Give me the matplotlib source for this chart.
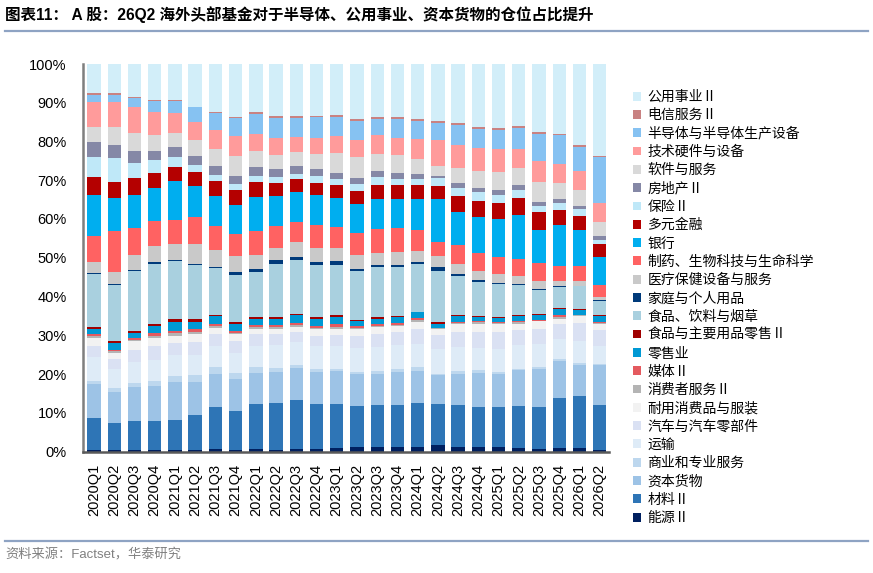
import matplotlib
matplotlib.use('Agg')
import matplotlib.pyplot as plt
from matplotlib.patches import Patch
from matplotlib.lines import Line2D
from matplotlib.ticker import FuncFormatter
from matplotlib.font_manager import FontProperties

plt.rcParams['font.family'] = ['Liberation Sans', 'Noto Sans CJK SC', 'DejaVu Sans']

quarters = ['2020Q1', '2020Q2', '2020Q3', '2020Q4', '2021Q1', '2021Q2', '2021Q3', '2021Q4',
            '2022Q1', '2022Q2', '2022Q3', '2022Q4', '2023Q1', '2023Q2', '2023Q3', '2023Q4',
            '2024Q1', '2024Q2', '2024Q3', '2024Q4', '2025Q1', '2025Q2', '2025Q3', '2025Q4',
            '2026Q1', '2026Q2']

# stacking order: bottom -> top
sector_names = ['能源Ⅱ', '材料Ⅱ', '资本货物', '商业和专业服务', '运输', '汽车与汽车零部件',
                '耐用消费品与服装', '消费者服务Ⅱ', '媒体Ⅱ', '零售业', '食品与主要用品零售Ⅱ',
                '食品、饮料与烟草', '家庭与个人用品', '医疗保健设备与服务', '制药、生物科技与生命科学',
                '银行', '多元金融', '保险Ⅱ', '房地产Ⅱ', '软件与服务', '技术硬件与设备',
                '半导体与半导体生产设备', '电信服务Ⅱ', '公用事业Ⅱ']

energy = [0.5, 0.4, 0.3, 0.3, 0.5, 0.4, 0.6, 0.5, 0.7, 0.5, 0.7, 0.7, 0.9, 1.1, 1.1, 1.1, 1.1, 1.6, 1.1, 1.1, 1.1, 1.0, 0.7, 0.9, 0.9, 0.5]
materials = [8.1, 6.9, 7.5, 7.7, 7.7, 8.9, 11.0, 9.9, 11.5, 12.1, 12.5, 11.5, 11.3, 10.6, 10.8, 11.0, 11.4, 10.6, 10.8, 10.5, 10.4, 10.7, 10.8, 12.9, 13.3, 11.6]
capital_goods = [8.9, 8.1, 8.9, 9.0, 9.7, 8.6, 8.3, 8.4, 8.1, 7.9, 8.4, 8.3, 8.6, 8.2, 8.2, 8.4, 8.3, 7.5, 8.2, 8.6, 8.4, 9.3, 9.9, 9.5, 8.0, 10.1]
commercial = [0.6, 1.0, 1.0, 1.3, 1.7, 1.9, 1.9, 1.5, 1.4, 1.1, 0.6, 0.9, 0.6, 0.6, 0.7, 0.7, 1.0, 0.4, 0.7, 0.8, 0.6, 0.4, 0.4, 0.5, 0.6, 0.5]
transport = [6.3, 4.8, 5.4, 5.3, 5.2, 5.0, 5.3, 5.1, 5.6, 5.8, 6.1, 5.7, 5.7, 6.2, 6.2, 6.2, 5.9, 6.3, 6.2, 5.8, 6.0, 6.0, 6.0, 5.3, 5.6, 4.5]
autos = [2.7, 2.6, 3.0, 3.7, 3.2, 3.5, 3.1, 3.1, 3.0, 2.8, 2.6, 2.8, 2.9, 3.1, 3.4, 3.4, 3.9, 3.6, 3.9, 4.0, 4.3, 3.9, 3.9, 3.9, 4.8, 4.1]
durables = [2.3, 1.7, 2.4, 2.1, 1.9, 2.1, 1.7, 1.7, 1.4, 1.5, 1.3, 1.6, 1.7, 1.7, 1.7, 1.5, 1.9, 1.7, 2.1, 2.2, 2.2, 1.7, 1.9, 1.3, 1.7, 1.6]
consumer_services = [0.4, 0.4, 0.3, 0.4, 0.6, 0.5, 0.5, 0.4, 0.5, 0.4, 0.4, 0.4, 0.5, 0.4, 0.4, 0.4, 0.4, 0.1, 0.2, 0.3, 0.1, 0.3, 0.2, 0.4, 0.2, 0.2]
media = [0.4, 0.4, 0.4, 0.9, 0.7, 0.6, 0.5, 0.5, 0.5, 0.5, 0.5, 0.4, 0.6, 0.4, 0.5, 0.5, 0.5, 0.2, 0.2, 0.3, 0.2, 0.3, 0.2, 0.4, 0.2, 0.2]
retailing = [1.5, 1.8, 1.5, 1.7, 2.2, 2.0, 2.0, 1.9, 1.5, 1.7, 2.0, 2.0, 1.9, 1.3, 1.3, 1.4, 1.5, 1.0, 1.5, 1.0, 1.2, 1.4, 1.3, 1.6, 1.3, 1.6]
food_retail = [0.4, 0.4, 0.5, 0.4, 0.7, 0.6, 0.4, 0.4, 0.4, 0.4, 0.4, 0.4, 0.4, 0.3, 0.4, 0.4, 0.2, 0.3, 0.3, 0.4, 0.3, 0.3, 0.3, 0.4, 0.3, 0.3]
food_bev = [13.6, 14.4, 15.3, 15.7, 15.0, 14.0, 12.0, 12.1, 11.8, 13.8, 14.0, 13.4, 13.1, 12.7, 12.9, 12.6, 12.2, 13.3, 10.0, 8.8, 8.3, 7.6, 6.2, 5.4, 5.7, 3.7]
household = [0.4, 0.3, 0.3, 0.3, 0.3, 0.3, 0.4, 0.7, 0.7, 0.9, 0.8, 0.7, 0.9, 0.6, 0.6, 0.6, 0.5, 0.9, 0.7, 0.4, 0.4, 0.4, 0.2, 0.1, 0.1, 0.1]
healthcare_eq = [2.7, 3.2, 3.9, 4.2, 4.1, 5.2, 4.3, 4.2, 3.7, 3.2, 3.7, 3.6, 3.5, 3.5, 3.1, 3.3, 3.0, 3.0, 2.4, 2.4, 2.2, 1.9, 1.9, 1.3, 1.2, 0.9]
pharma = [6.9, 10.4, 7.1, 6.5, 6.3, 6.8, 6.2, 5.7, 6.2, 5.7, 5.3, 6.0, 5.4, 5.6, 6.2, 6.2, 5.3, 3.6, 5.1, 4.5, 4.6, 4.6, 4.7, 4.1, 4.0, 3.0]
banks = [10.6, 8.6, 8.4, 8.4, 9.9, 8.2, 7.7, 7.5, 8.7, 7.7, 7.6, 7.8, 7.3, 7.5, 7.7, 7.4, 8.0, 11.0, 8.4, 9.3, 9.6, 11.2, 8.6, 10.4, 9.2, 7.2]
div_fin = [4.5, 4.1, 4.4, 4.1, 3.7, 3.6, 4.0, 3.9, 3.8, 3.4, 3.3, 3.2, 3.5, 3.5, 3.7, 3.8, 3.8, 3.4, 4.1, 4.3, 4.3, 4.5, 4.5, 4.0, 3.7, 3.4]
insurance = [5.2, 6.3, 3.9, 3.2, 2.7, 1.8, 1.5, 1.5, 1.5, 1.4, 1.5, 1.7, 1.5, 1.7, 1.9, 1.5, 1.4, 2.1, 2.2, 2.2, 2.0, 2.1, 1.6, 1.8, 1.7, 1.1]
real_estate = [3.8, 3.2, 3.1, 2.4, 2.6, 2.2, 2.2, 2.0, 2.4, 2.1, 2.1, 1.9, 1.7, 1.6, 1.6, 1.5, 1.3, 0.5, 1.3, 1.2, 1.3, 1.1, 1.2, 0.9, 0.8, 0.9]
software = [3.9, 4.7, 4.7, 4.1, 3.6, 4.1, 4.5, 5.3, 4.2, 3.6, 3.6, 3.8, 5.1, 5.3, 4.5, 4.6, 4.0, 2.7, 3.8, 4.4, 4.5, 4.5, 5.0, 4.3, 4.1, 3.7]
tech_hw = [6.5, 6.4, 6.6, 5.8, 5.0, 4.7, 4.8, 5.0, 4.4, 4.3, 3.8, 4.0, 4.3, 4.6, 4.7, 4.5, 5.0, 6.5, 5.8, 5.7, 6.0, 4.8, 5.4, 4.9, 4.9, 4.9]
semis = [1.8, 1.9, 2.2, 2.9, 3.2, 3.8, 4.4, 4.7, 5.1, 5.3, 4.9, 5.4, 4.9, 4.9, 4.1, 4.8, 4.7, 4.6, 5.2, 4.9, 5.0, 5.4, 7.1, 7.3, 6.4, 11.9]
telecom = [0.5, 0.4, 0.4, 0.3, 0.3, 0.2, 0.3, 0.4, 0.4, 0.4, 0.4, 0.4, 0.5, 0.5, 0.6, 0.6, 0.6, 0.4, 0.7, 0.7, 0.4, 0.6, 0.4, 0.4, 0.3, 0.3]
utilities = [7.5, 7.6, 8.5, 9.3, 9.2, 11.0, 12.4, 13.6, 12.5, 13.5, 13.5, 13.4, 13.2, 14.1, 13.7, 13.6, 14.1, 14.7, 15.1, 16.2, 16.6, 16.0, 17.6, 18.0, 21.0, 23.7]

series = [energy, materials, capital_goods, commercial, transport, autos, durables,
          consumer_services, media, retailing, food_retail, food_bev, household,
          healthcare_eq, pharma, banks, div_fin, insurance, real_estate, software,
          tech_hw, semis, telecom, utilities]

colors = ['#002060', '#2E75B6', '#9DC3E6', '#BDD7EE', '#DEEBF7', '#DAE1F3',
          '#F2F2F2', '#B4B4B4', '#E45A5F', '#0099D4', '#A00000',
          '#A9D0DF', '#003A7A', '#C9C9C9', '#FF6262',
          '#00AEEF', '#B40000', '#BFE8F8', '#8588A6', '#D9D9D9',
          '#FF9B9B', '#86C2F2', '#C98282', '#D2EEF9']

fig = plt.figure(figsize=(8.73, 5.73), dpi=100)
W, H = 873, 573
ax = fig.add_axes([83.3 / W, 1 - 451.5 / H, (609 - 83.3) / W, (451.5 - 64) / H])

x = list(range(len(quarters)))
bottom = [0.0] * len(quarters)
for vals, col, name in zip(series, colors, sector_names):
    ax.bar(x, vals, bottom=bottom, width=0.66, color=col, linewidth=0, label=name)
    bottom = [b + v for b, v in zip(bottom, vals)]

ax.set_xlim(-0.53, len(quarters) - 1 + 0.46)
ax.set_ylim(0, 100)
ax.set_yticks(range(0, 101, 10))
ax.yaxis.set_major_formatter(FuncFormatter(lambda v, p: f'{int(v)}%'))
ax.set_xticks(x)
ax.set_xticklabels(quarters, rotation=90, fontsize=10.5)
ax.tick_params(axis='y', length=0, pad=12, labelsize=10.5)
ax.tick_params(axis='x', length=0, pad=9)
for s in ['top', 'right']:
    ax.spines[s].set_visible(False)
ax.spines['left'].set_color('#7F7F7F')
ax.spines['left'].set_linewidth(1.8)
ax.spines['bottom'].set_color('#595959')
ax.spines['bottom'].set_linewidth(1.8)

handles = [Patch(facecolor=c, edgecolor='none') for c in colors][::-1]
labels = sector_names[::-1]
leg_font = FontProperties(family=['Noto Sans CJK SC', 'DejaVu Sans'], size=10)
fig.legend(handles, labels, loc='upper left', bbox_to_anchor=(633 / W, 1 - 90 / H),
           frameon=False, prop=leg_font, handlelength=0.6, handleheight=0.6,
           handletextpad=0.45, labelspacing=0.31, borderaxespad=0, borderpad=0)

fig.text(5 / W, 1 - 15 / H,
         '图表11： A 股：26Q2 海外头部基金对于半导体、公用事业、资本货物的仓位占比提升',
         fontsize=11.2, fontweight='bold', va='center', ha='left')
fig.add_artist(Line2D([5 / W, 868 / W], [1 - 31 / H, 1 - 31 / H], color='#8EA3C3', lw=1.6))
fig.add_artist(Line2D([5 / W, 868 / W], [1 - 541 / H, 1 - 541 / H], color='#8EA3C3', lw=1.6))
fig.text(5 / W, 1 - 555 / H, '资料来源：Factset，华泰研究', fontsize=9.5, color='#808080',
         va='center', ha='left')

fig.savefig('out.png', dpi=100)
